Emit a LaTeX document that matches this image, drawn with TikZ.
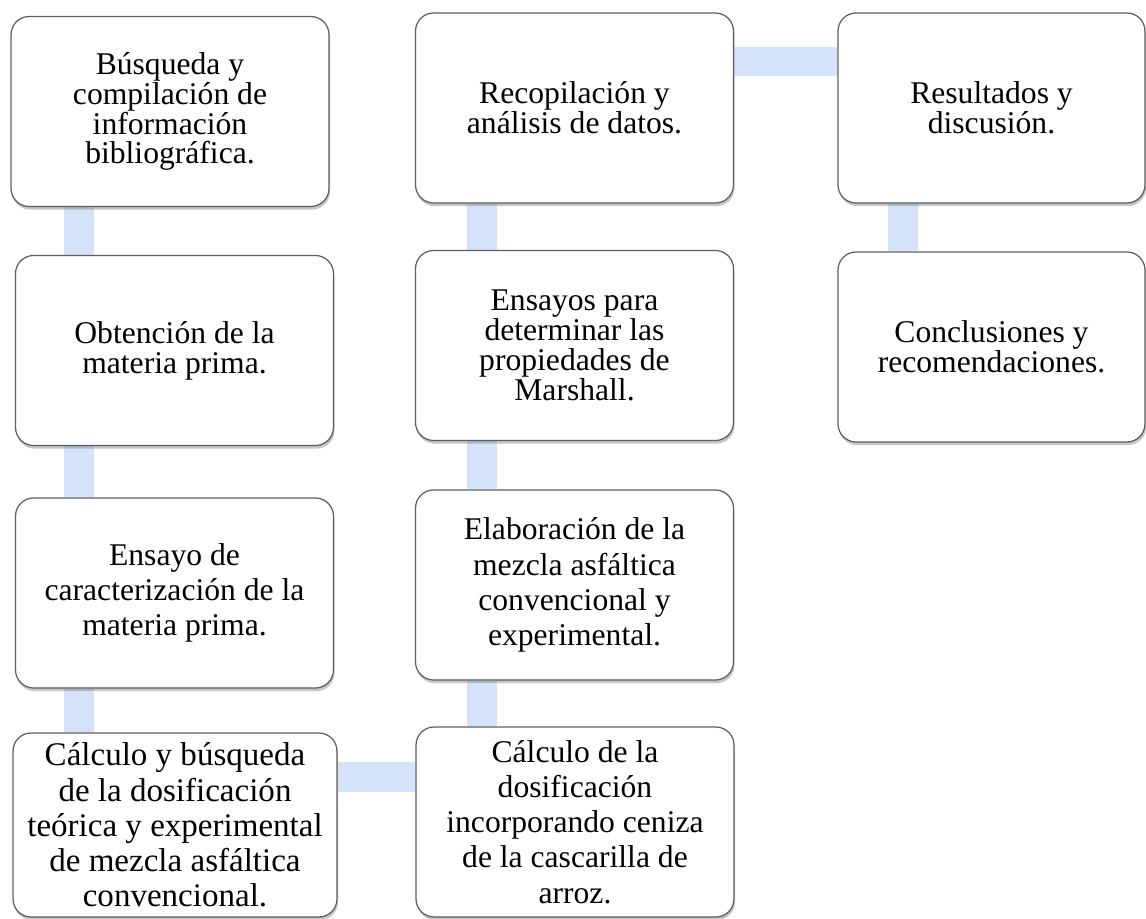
\documentclass[tikz,border=0pt]{standalone}
\usepackage{fontspec}
\setmainfont{Liberation Serif}
\usetikzlibrary{shadows,backgrounds}
\definecolor{barblue}{RGB}{212,226,250}
\definecolor{boxgray}{RGB}{95,95,95}
\tikzset{
  stage/.style={draw=boxgray, line width=0.7pt, fill=white, rounded corners=0.36cm,
    align=center, inner sep=2pt, minimum width=6.36cm, minimum height=3.8cm,
    font=\fontsize{18}{17}\selectfont,
    drop shadow={shadow xshift=0.6pt, shadow yshift=-1.8pt, opacity=0.45}},
  tall/.style={font=\fontsize{18}{20}\selectfont},
  barline/.style={draw=barblue, line width=0.6cm},
}
\begin{document}
\begin{tikzpicture}[x=0.02cm, y=-0.02cm]
	\useasboundingbox (0,0) rectangle (1146,919);
	% first column
	\node[stage] (b1) at (170,111.5) {Búsqueda y\\compilación de\\información\\bibliográfica.};
	\node[stage] (b2) at (174.5,350.5) {Obtención de la\\materia prima.};
	\node[stage, tall] (b3) at (174.5,593) {Ensayo de\\caracterización de la\\materia prima.};
	\node[stage, font=\fontsize{18.8}{20}\selectfont, minimum width=6.48cm, minimum height=3.68cm] (b4) at (175,825) {Cálculo y búsqueda\\de la dosificación\\teórica y experimental\\de mezcla asfáltica\\convencional.};
	% second column
	\node[stage] (c1) at (574.5,108) {Recopilación y\\análisis de datos.};
	\node[stage] (c2) at (574.5,345.5) {Ensayos para\\determinar las\\propiedades de\\Marshall.};
	\node[stage, tall] (c3) at (574.5,585) {Elaboración de la\\mezcla asfáltica\\convencional y\\experimental.};
	\node[stage, tall] (c4) at (575,822) {Cálculo de la\\dosificación\\incorporando ceniza\\de la cascarilla de\\arroz.};
	% third column
	\node[stage, minimum width=6.14cm] (d1) at (991.5,108) {Resultados y\\discusión.};
	\node[stage, minimum width=6.14cm] (d2) at (991.5,347) {Conclusiones y\\recomendaciones.};

	\coordinate (colA) at (79,0);
	\coordinate (colB) at (482,0);
	\coordinate (colC) at (903,0);
	\coordinate (rowA) at (0,61.5);
	\coordinate (rowB) at (0,777);

	\begin{scope}[on background layer]
		\foreach \a/\b in {b1/b2,b2/b3,b3/b4}{
			\draw[barline] (\a.south -| colA) -- (\b.north -| colA);
		};
		\foreach \a/\b in {c4/c3,c3/c2,c2/c1}{
			\draw[barline] (\a.north -| colB) -- (\b.south -| colB);
		};
		\draw[barline] (d1.south -| colC) -- (d2.north -| colC);
		\draw[barline] (b4.east |- rowB) -- (c4.west |- rowB);
		\draw[barline] (c1.east |- rowA) -- (d1.west |- rowA);
	\end{scope}
\end{tikzpicture}
\end{document}
